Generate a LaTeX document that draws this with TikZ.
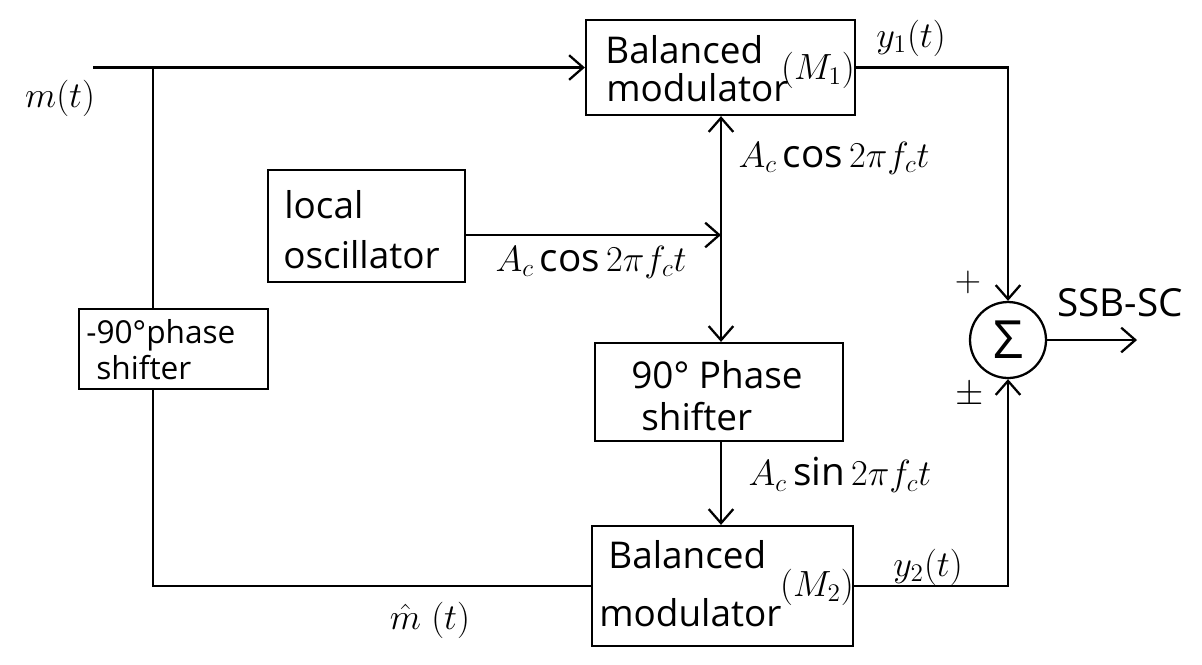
\documentclass[tikz,border=0pt]{standalone}
\usepackage{fontspec}
\setmainfont{Open Sans}
\usetikzlibrary{arrows.meta,calc}
\begin{document}
\begin{tikzpicture}[x=0.02cm,y=-0.02cm,
  wire/.style={line width=1.3pt},
  arr/.style={wire,-{Straight Barb[length=8pt,width=14pt,line width=1.3pt]}},
  blk/.style={draw,line width=1.3pt,inner sep=0pt},
  txt/.style={font=\fontsize{21}{25}\selectfont,inner sep=0pt,anchor=west},
  txtsm/.style={font=\fontsize{18}{22}\selectfont,inner sep=0pt,anchor=west},
  lab/.style={font=\fontsize{22}{26}\selectfont,inner sep=0pt}]
\useasboundingbox (0,0) rectangle (1202,664);

% blocks
\node[blk,minimum width=5.38cm,minimum height=1.9cm] (m1) at (720.5,67.5) {};
\node[txt] (m1a) at (605,50) {Balanced};
\node[txt] (m1b) at (606,88) {modulator};
\node[lab] (m1c) at (818,70) {$(M_1)$};

\node[blk,minimum width=3.94cm,minimum height=2.24cm] (lo) at (366.5,226) {};
\node[txt] (loa) at (284,205) {local};
\node[txt] (lob) at (283,255) {oscillator};

\node[blk,minimum width=3.78cm,minimum height=1.6cm] (n90) at (173.5,349) {};
\node[txtsm] (n90a) at (86,335) {-90°phase};
\node[txtsm] (n90b) at (96,368) {shifter};

\node[blk,minimum width=4.96cm,minimum height=1.96cm] (ps) at (719,392) {};
\node[txt] (psa) at (631,375) {90° Phase};
\node[txt] (psb) at (641,417) {shifter};

\node[blk,minimum width=5.22cm,minimum height=2.4cm] (m2) at (722.5,586) {};
\node[txt] (m2a) at (608,555) {Balanced};
\node[txt] (m2b) at (599,613) {modulator};
\node[lab] (m2c) at (817,587) {$(M_2)$};

\node[draw,circle,line width=1.3pt,minimum size=1.52cm,inner sep=0pt,
  font=\fontsize{30}{34}\selectfont] (sum) at (1008,340) {Σ};

% junctions and free ends
\coordinate (src) at (93,67.5);
\coordinate (j1) at (153,67.5);
\coordinate (c1) at (721,235);
\coordinate (out) at (1137,340);

% connectors
\draw[arr] (src) -- (m1.west);
\draw[wire] (j1) -- (j1 |- n90.north);
\draw[wire] (j1 |- n90.south) |- (m2.west);
\draw[arr] (lo.east |- c1) -- (c1);
\draw[arr] (c1) -- (c1 |- m1.south);
\draw[arr] (c1) -- (c1 |- ps.north);
\draw[arr] (c1 |- ps.south) -- (c1 |- m2.north);
\draw[arr] (m1.east) -| (sum.north);
\draw[arr] (m2.east) -| (sum.south);
\draw[arr] (sum.east) -- (out);

% signal labels
\node[lab] (lmt) at (60,98) {$m(t)$};
\node[lab] (ly1) at (911,38) {$y_1(t)$};
\node[lab] (lcos1) at (834,158) {$A_c\cos 2\pi f_c t$};
\node[lab] (lcos2) at (591,262) {$A_c\cos 2\pi f_c t$};
\node[lab] (lsin) at (840,475) {$A_c\sin 2\pi f_c t$};
\node[lab] (lplus) at (968,282) {$+$};
\node[lab] (lpm) at (970,395) {$\pm$};
\node[lab] (lssb) at (1120,303) {SSB-SC};
\node[lab] (ly2) at (928,567) {$y_2(t)$};
\node[lab] (lmh) at (430,620) {$\hat{m}\;(t)$};
\end{tikzpicture}
\end{document}
